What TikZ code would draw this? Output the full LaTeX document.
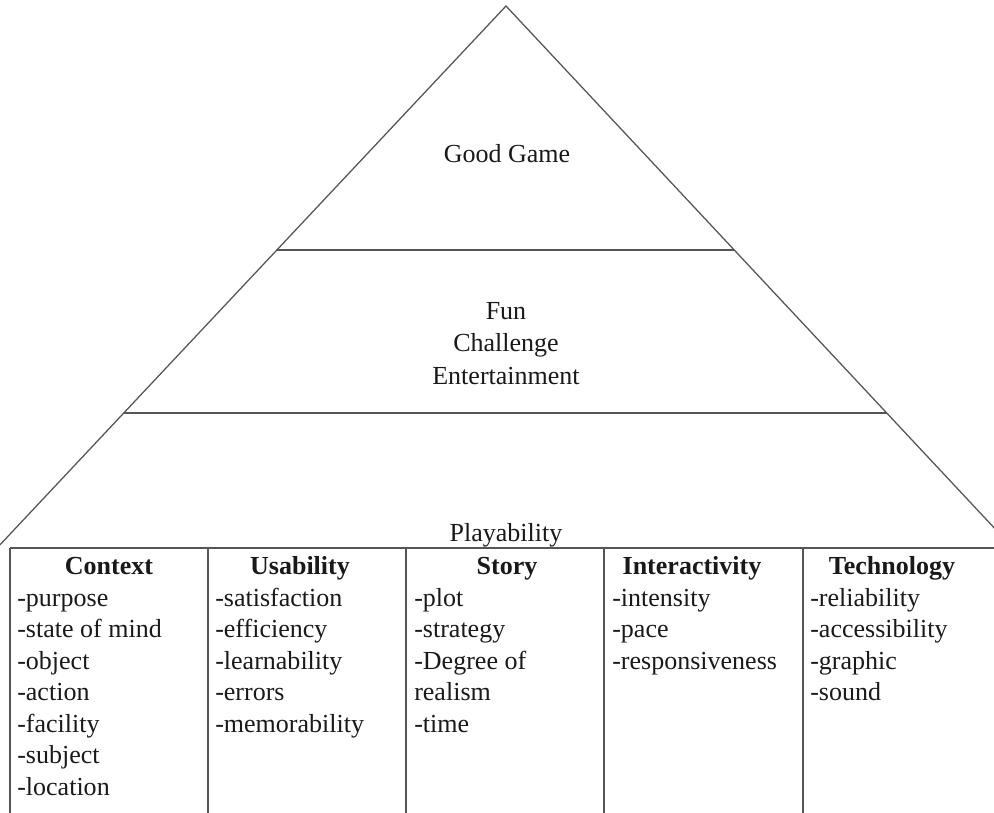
\documentclass[tikz,border=0pt]{standalone}
\usepackage{fontspec}
\setmainfont{Liberation Serif}
\usetikzlibrary{calc}
\definecolor{trazo}{RGB}{85,85,85}
\definecolor{tinta}{RGB}{25,25,25}

\begin{document}
\begin{tikzpicture}[x=0.025cm,y=-0.025cm,
    edge/.style={trazo,line width=0.9pt},
    level/.style={font=\fontsize{18.5}{22}\selectfont,text=tinta,inner sep=0pt,anchor=base},
    head/.style={font=\fontsize{18.5}{22}\selectfont\bfseries,text=tinta,inner sep=0pt,anchor=base},
    item/.style={font=\fontsize{18.5}{22}\selectfont,text=tinta,inner sep=0pt,anchor=base west}]
  \useasboundingbox (0,0) rectangle (994,813);
  \clip (0,0) rectangle (994,813);
  \coordinate (apex) at (506,6);
  \coordinate (bl) at (-3,548);
  \coordinate (br) at (1013,548);
  \coordinate (base-left) at (10,548);
  \draw[edge] (bl) -- (apex) -- (br);
  \draw[edge] ($(apex)!0.45!(bl)$) -- ($(apex)!0.45!(br)$);
  \draw[edge] ($(apex)!0.751!(bl)$) -- ($(apex)!0.751!(br)$);
  \draw[edge] (base-left) -- (br);
  \foreach \x in {10,208,406,604,803}
    \draw[edge] (\x,548) -- (\x,813);

  \node[level] (good) at (507,163) {Good Game};
  \node[level] (fun) at (506,320) {Fun};
  \node[level] (challenge) at (506,352) {Challenge};
  \node[level] (entertainment) at (506,385) {Entertainment};
  \node[level] (playability) at (506,541) {Playability};

  \node[head] (context) at (109,574) {Context};
  \node[head] (usability) at (300,574) {Usability};
  \node[head] (story) at (507,574) {Story};
  \node[head] (interactivity) at (692,574) {Interactivity};
  \node[head] (technology) at (892,574) {Technology};

  \foreach \t [count=\i] in {-purpose,-state of mind,-object,-action,-facility,-subject,-location}
    \node[item] (context-\i) at (17,574.5+31.5*\i) {\t};
  \foreach \t [count=\i] in {-satisfaction,-efficiency,-learnability,-errors,-memorability}
    \node[item] (usability-\i) at (215,574.5+31.5*\i) {\t};
  \foreach \t [count=\i] in {-plot,-strategy,-Degree of,realism,-time}
    \node[item] (story-\i) at (414,574.5+31.5*\i) {\t};
  \foreach \t [count=\i] in {-intensity,-pace,-responsiveness}
    \node[item] (interactivity-\i) at (612,574.5+31.5*\i) {\t};
  \foreach \t [count=\i] in {-reliability,-accessibility,-graphic,-sound}
    \node[item] (technology-\i) at (810,574.5+31.5*\i) {\t};
\end{tikzpicture}
\end{document}
